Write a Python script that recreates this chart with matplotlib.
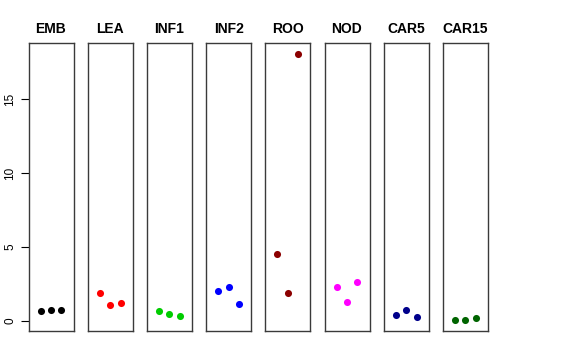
import numpy as np
import matplotlib.pyplot as plt

plt.rcParams['font.family'] = ['Liberation Sans', 'DejaVu Sans']

tissues = ["EMB", "LEA", "INF1", "INF2", "ROO", "NOD", "CAR5", "CAR15"]
colors = ["black", "red", "#00CD00", "blue", "#8B0000", "magenta", "#00008B", "#006400"]
replicates = [1, 2, 3]

emb = [0.68, 0.70, 0.72]
lea = [1.87, 1.09, 1.20]
inf1 = [0.65, 0.45, 0.29]
inf2 = [1.99, 2.28, 1.11]
roo = [4.55, 1.90, 18.1]
nod = [2.28, 1.26, 2.65]
car5 = [0.36, 0.75, 0.25]
car15 = [0.02, 0.03, 0.16]
values = [emb, lea, inf1, inf2, roo, nod, car5, car15]

# R style 4% padding
allv = np.concatenate(values)
rng = allv.max() - allv.min()
ylim = (allv.min() - 0.04 * rng, allv.max() + 0.04 * rng)
xlim = (0 - 0.16, 4 + 0.16)

W, H = 576, 360
fig = plt.figure(figsize=(W / 100, H / 100), dpi=100)

left0, pw, step = 28.5, 45, 59.2
top, bottom = 43, 331
for i, (name, vals, col) in enumerate(zip(tissues, values, colors)):
    x0 = left0 + i * step
    ax = fig.add_axes([x0 / W, (H - bottom) / H, pw / W, (bottom - top) / H])
    ax.scatter(replicates, vals, s=26, color=col, zorder=3, linewidths=0)
    ax.set_xlim(xlim)
    ax.set_ylim(ylim)
    ax.set_xticks([])
    for sp in ax.spines.values():
        sp.set_color("#3a3a3a")
        sp.set_linewidth(1.0)
    ax.set_title(name, fontsize=10, fontweight="bold", pad=7)
    if i == 0:
        ax.set_yticks([0, 5, 10, 15])
        ax.set_yticklabels(["0", "5", "10", "15"], rotation=90, va="center", fontsize=8.5)
        ax.tick_params(axis="y", length=6, width=0.8, pad=3)
    else:
        ax.set_yticks([])

fig.savefig("out.png", dpi=100)
